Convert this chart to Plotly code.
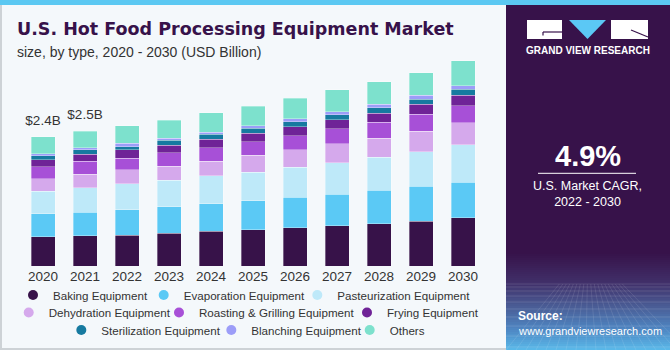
import plotly.graph_objects as go

# ---------------- data (USD Billion) ----------------
years = ['2020', '2021', '2022', '2023', '2024', '2025', '2026', '2027', '2028', '2029', '2030']
baking         = [0.54, 0.56, 0.57, 0.61, 0.64, 0.67, 0.71, 0.75, 0.78, 0.83, 0.89]
evaporation    = [0.43, 0.44, 0.47, 0.49, 0.51, 0.54, 0.56, 0.58, 0.62, 0.65, 0.66]
pasteurization = [0.41, 0.45, 0.48, 0.49, 0.52, 0.53, 0.56, 0.58, 0.61, 0.64, 0.70]
dehydration    = [0.24, 0.25, 0.26, 0.26, 0.27, 0.31, 0.32, 0.35, 0.36, 0.38, 0.40]
roasting       = [0.22, 0.24, 0.22, 0.25, 0.25, 0.25, 0.26, 0.28, 0.29, 0.31, 0.32]
frying         = [0.13, 0.13, 0.15, 0.14, 0.16, 0.16, 0.17, 0.17, 0.17, 0.19, 0.19]
sterilization  = [0.07, 0.08, 0.06, 0.09, 0.09, 0.09, 0.09, 0.09, 0.10, 0.09, 0.11]
blanching      = [0.04, 0.04, 0.06, 0.04, 0.04, 0.05, 0.06, 0.06, 0.07, 0.07, 0.07]
others         = [0.31, 0.31, 0.33, 0.33, 0.36, 0.36, 0.38, 0.40, 0.41, 0.42, 0.46]

series_names = ['Baking Equipment', 'Evaporation Equipment', 'Pasteurization Equipment',
                'Dehydration Equipment', 'Roasting & Grilling Equipment', 'Frying Equipment',
                'Sterilization Equipment', 'Blanching Equipment', 'Others']
series_values = [baking, evaporation, pasteurization, dehydration, roasting, frying,
                 sterilization, blanching, others]
series_colors = ['#371249', '#5bc9f5', '#bee9f9', '#d5a9ec', '#a750d7', '#6f2397',
                 '#167aa0', '#9c9df8', '#7de1cd']

label_years = ['2020', '2021']
label_texts = ['$2.4B', '$2.5B']

cagr_text = '4.9%'
cagr_caption = 'U.S. Market CAGR,<br>2022 - 2030'

# ---------------- geometry helpers ----------------
W, H = 670, 350
BOTTOM = 266          # pixel row of the zero line
PX_PER_B = 54.0

# legend entry placement: (text start px, row centre px)
legend_pos = [(50, 295), (180.7, 295), (334.3, 295),
              (45.7, 312.5), (196, 312.5), (384, 312.5),
              (98.3, 330), (248.3, 330), (386.7, 330)]


def fx(x):
    return x / W


def fy(y):
    return (BOTTOM - y) / BOTTOM


fig = go.Figure()

for name, vals, col in zip(series_names, series_values, series_colors):
    fig.add_bar(x=years, y=vals, name=name, showlegend=False,
                marker=dict(color=col, line=dict(color='rgba(255,255,255,0.55)', width=0.6)),
                hoverinfo='skip')

totals = [sum(v[i] for v in series_values) for i in range(len(years))]
label_y = [totals[years.index(yr)] for yr in label_years]
fig.add_scatter(x=label_years, y=label_y, text=label_texts, mode='markers+text',
                textposition='top center', cliponaxis=False, showlegend=False, hoverinfo='skip',
                marker=dict(size=12, color='rgba(0,0,0,0)'),
                textfont=dict(family='Liberation Sans, Arial', size=13.5, color='#333333'))

legend_layouts = {}
for k, (name, col) in enumerate(zip(series_names, series_colors)):
    key = 'legend' if k == 0 else 'legend%d' % (k + 1)
    fig.add_scatter(x=[None], y=[None], mode='markers', name=name, legend=key,
                    marker=dict(color=col, size=10, symbol='circle', line=dict(width=0)),
                    showlegend=True)
    tx, ty = legend_pos[k]
    legend_layouts[key] = dict(orientation='h', xanchor='left', yanchor='middle', x=fx(tx - 37), y=fy(ty),
                               bgcolor='rgba(0,0,0,0)', itemclick=False, itemdoubleclick=False,
                               font=dict(family='Liberation Sans, Arial', size=11.6, color='#333333'),
                               itemwidth=30)

annotations = []
# titles
annotations.append(dict(xref='paper', yref='paper', x=fx(15), y=fy(29), xanchor='left', yanchor='middle',
                        text='<b>U.S. Hot Food Processing Equipment Market</b>', showarrow=False,
                        font=dict(family='DejaVu Sans', size=17.5, color='#37124a')))
annotations.append(dict(xref='paper', yref='paper', x=fx(15), y=fy(51.5), xanchor='left', yanchor='middle',
                        text='size, by type, 2020 - 2030 (USD Billion)', showarrow=False,
                        font=dict(family='Liberation Sans, Arial', size=14, color='#333333')))

# right panel texts
annotations += [
    dict(xref='paper', yref='paper', x=fx(587.5), y=fy(50.5), xanchor='center', yanchor='middle',
         text='<b>GRAND VIEW RESEARCH</b>', showarrow=False,
         font=dict(family='Liberation Sans, Arial', size=10, color='white')),
    dict(xref='paper', yref='paper', x=fx(587.5), y=fy(156), xanchor='center', yanchor='middle',
         text='<b>' + cagr_text + '</b>', showarrow=False,
         font=dict(family='Liberation Sans, Arial', size=29, color='white')),
    dict(xref='paper', yref='paper', x=fx(587.5), y=fy(194), xanchor='center', yanchor='middle',
         text=cagr_caption, showarrow=False,
         font=dict(family='Liberation Sans, Arial', size=12.5, color='white')),
    dict(xref='paper', yref='paper', x=fx(516), y=fy(316), xanchor='left', yanchor='middle',
         text='<b>Source:</b>', showarrow=False,
         font=dict(family='Liberation Sans, Arial', size=12, color='white')),
    dict(xref='paper', yref='paper', x=fx(516), y=fy(330.5), xanchor='left', yanchor='middle',
         text='www.grandviewresearch.com', showarrow=False,
         font=dict(family='Liberation Sans, Arial', size=11, color='white')),
]

shapes = []


def rect(x0, y0, x1, y1, color, layer='above'):
    shapes.append(dict(type='rect', xref='paper', yref='paper', x0=fx(x0), x1=fx(x1),
                       y0=fy(y1), y1=fy(y0), fillcolor=color, line=dict(width=0), layer=layer))


def line(x0, y0, x1, y1, color, width=1):
    shapes.append(dict(type='line', xref='paper', yref='paper', x0=fx(x0), x1=fx(x1),
                       y0=fy(y0), y1=fy(y1), line=dict(color=color, width=width), layer='above'))


# borders / stripes
rect(0, 0, 670, 5, '#5bc8f2')
rect(0, 5, 2, 350, '#cdd2d6')
rect(0, 348, 506, 350, '#cdd2d6')

# right dark panel with gradient foot
rect(506, 5, 670, 350, '#37124a')


def hex2rgb(h):
    h = h.lstrip('#')
    return tuple(int(h[i:i + 2], 16) for i in (0, 2, 4))


stops = [(252, '#37124a'), (282, '#41306a'), (305, '#4a5c95'), (330, '#4f8ac6'), (350, '#5bbcec')]
y = 252
while y < 350:
    for (a, ca), (b, cb) in zip(stops[:-1], stops[1:]):
        if a <= y < b:
            t = (y - a) / (b - a)
            r1, g1, b1 = hex2rgb(ca)
            r2, g2, b2 = hex2rgb(cb)
            c = 'rgb(%d,%d,%d)' % (r1 + (r2 - r1) * t, g1 + (g2 - g1) * t, b1 + (b2 - b1) * t)
            break
    rect(506, y, 670, min(y + 2, 350), c)
    y += 2

# faint mesh lines
for yy in [284, 287, 291, 296, 302, 309, 317, 326, 336, 347]:
    line(506, yy, 670, yy, 'rgba(255,255,255,0.13)', 1)
for xx in range(506, 690, 10):
    line(588 + (xx - 588) * 0.35, 284, xx, 350, 'rgba(255,255,255,0.10)', 1)

# logo
rect(527, 20, 562, 39, 'white')
line(543, 32, 562, 32, '#37124a', 1.2)
line(543, 32, 543, 35.5, '#37124a', 1.2)
shapes.append(dict(type='path', xref='paper', yref='paper',
                   path='M %f,%f L %f,%f L %f,%f Z' % (fx(569), fy(20), fx(606), fy(20), fx(587.5), fy(39)),
                   fillcolor='#5bc8f5', line=dict(width=0), layer='above'))
rect(611, 20, 648, 39, 'white')
line(631, 30, 648, 37, '#37124a', 1.2)

# CAGR separator
line(538, 173.3, 636, 173.3, 'white', 1)

fig.update_layout(
    width=W, height=H,
    margin=dict(l=0, r=0, t=0, b=H - BOTTOM, autoexpand=False),
    barmode='stack', bargap=1 - 24 / 42,
    paper_bgcolor='#f4f8fb', plot_bgcolor='#f4f8fb',
    xaxis=dict(type='category', range=[-43 / 42, (W - 43) / 42], showgrid=False, zeroline=False,
               showline=False, ticks='', tickfont=dict(family='Liberation Sans, Arial', size=13.5, color='#333333'),
               fixedrange=True),
    yaxis=dict(range=[0, BOTTOM / PX_PER_B], visible=False, fixedrange=True),
    annotations=annotations,
    shapes=shapes,
    showlegend=True,
    **legend_layouts,
)

fig.write_html('out.html', config={'displayModeBar': False})
